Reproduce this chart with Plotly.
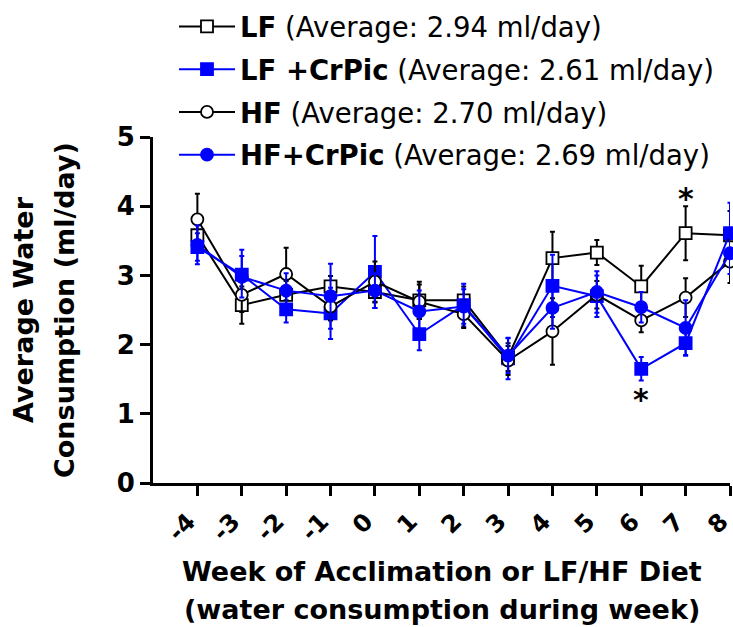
import plotly.graph_objects as go

weeks = [-4, -3, -2, -1, 0, 1, 2, 3, 4, 5, 6, 7, 8]
tick_labels = ["-4", "-3", "-2", "-1", "0", "1", "2", "3", "4", "5", "6", "7", "8"]

lf = [3.58, 2.57, 2.72, 2.84, 2.76, 2.64, 2.64, 1.82, 3.25, 3.33, 2.84, 3.61, 3.58]
lf_err = [0.20, 0.27, 0.20, 0.15, 0.15, 0.27, 0.20, 0.20, 0.38, 0.18, 0.30, 0.39, 0.35]

lfc = [3.41, 3.01, 2.51, 2.45, 3.05, 2.15, 2.57, 1.80, 2.85, 2.70, 1.65, 2.02, 3.61]
lfc_err = [0.20, 0.36, 0.19, 0.37, 0.52, 0.23, 0.31, 0.30, 0.45, 0.30, 0.17, 0.17, 0.44]

hf = [3.81, 2.72, 3.02, 2.55, 2.91, 2.62, 2.44, 1.77, 2.19, 2.72, 2.35, 2.68, 3.20]
hf_err = [0.37, 0.25, 0.38, 0.20, 0.29, 0.25, 0.20, 0.21, 0.48, 0.20, 0.17, 0.28, 0.31]

hfc = [3.44, 2.98, 2.78, 2.70, 2.78, 2.48, 2.55, 1.84, 2.53, 2.76, 2.54, 2.24, 3.32]
hfc_err = [0.28, 0.30, 0.25, 0.47, 0.25, 0.30, 0.25, 0.25, 0.30, 0.30, 0.22, 0.40, 0.30]

names = [
    "<b>LF</b> (Average: 2.94 ml/day)",
    "<b>LF +CrPic</b> (Average: 2.61 ml/day)",
    "<b>HF</b> (Average: 2.70 ml/day)",
    "<b>HF+CrPic</b> (Average: 2.69 ml/day)",
]

star_x = [7, 6]
star_y = [4.16, 1.25]

FONT = "DejaVu Sans"
BLACK = "#000000"
BLUE = "#0000FF"

fig = go.Figure()

def add(y, err, name, color, symbol, fill, group):
    fig.add_trace(go.Scatter(
        x=weeks, y=y, name=name, mode="lines+markers", legendgroup=group,
        line=dict(color=color, width=2),
        marker=dict(symbol=symbol, size=12,
                    color=(color if fill else "white"),
                    line=dict(color=color, width=1.8)),
        error_y=dict(type="data", array=err, visible=True,
                     color=color, thickness=2, width=2.5),
        cliponaxis=False,
    ))

add(lf, lf_err, names[0], BLACK, "square", False, "g1")
add(lfc, lfc_err, names[1], BLUE, "square", True, "g2")
add(hf, hf_err, names[2], BLACK, "circle", False, "g3")
add(hfc, hfc_err, names[3], BLUE, "circle", True, "g4")

for sx, sy in zip(star_x, star_y):
    fig.add_annotation(x=sx, y=sy, text="<b>*</b>", showarrow=False,
                       font=dict(family=FONT, size=30, color=BLACK),
                       yshift=-3)

# plot area in pixels
L, R, T, B = 153, 3, 137, 144
W, H = 733, 627
pw, ph = W - L - R, H - T - B

def px_to_paper_x(px):
    return (px - L) / pw

def py_to_paper_y(py):
    return (H - B - py) / ph

title_font = dict(family=FONT, size=27, color=BLACK)
fig.add_annotation(xref="paper", yref="paper", x=0.5, y=py_to_paper_y(571),
                   text="<b>Week of Acclimation or LF/HF Diet</b>", showarrow=False,
                   font=title_font, xanchor="center", yanchor="middle")
fig.add_annotation(xref="paper", yref="paper", x=0.5, y=py_to_paper_y(609),
                   text="<b>(water consumption during week)</b>", showarrow=False,
                   font=title_font, xanchor="center", yanchor="middle")
fig.add_annotation(xref="paper", yref="paper", x=px_to_paper_x(23), y=0.5,
                   text="<b>Average Water</b>", showarrow=False, textangle=-90,
                   font=title_font, xanchor="center", yanchor="middle")
fig.add_annotation(xref="paper", yref="paper", x=px_to_paper_x(64), y=0.5,
                   text="<b>Consumption (ml/day)</b>", showarrow=False, textangle=-90,
                   font=title_font, xanchor="center", yanchor="middle")

fig.update_layout(
    width=W, height=H,
    margin=dict(l=L, r=R, t=T, b=B, autoexpand=False),
    paper_bgcolor="white", plot_bgcolor="white",
    showlegend=True,
    legend=dict(x=px_to_paper_x(174), y=py_to_paper_y(2), xanchor="left", yanchor="top",
                font=dict(family=FONT, size=27.5, color=BLACK),
                bgcolor="rgba(0,0,0,0)", itemwidth=56, tracegroupgap=4),
    font=dict(family=FONT, color=BLACK),
)

fig.update_xaxes(
    range=[-5, 8], tickmode="array", tickvals=weeks, ticktext=tick_labels,
    tickangle=-45, ticks="outside", ticklen=10, tickwidth=3, tickcolor=BLACK,
    showline=True, linecolor=BLACK, linewidth=3, showgrid=False, zeroline=False,
    ticklabeloverflow="allow", ticklabelshift=-9, ticklabelstandoff=2,
    tickfont=dict(family=FONT, size=24, color=BLACK, weight="bold"),
)
fig.update_yaxes(
    range=[0, 5], tickvals=[0, 1, 2, 3, 4, 5],
    ticks="outside", ticklen=10, tickwidth=3, tickcolor=BLACK,
    showline=True, linecolor=BLACK, linewidth=3, showgrid=False, zeroline=False,
    tickfont=dict(family=FONT, size=26, color=BLACK, weight="bold"),
)

fig.write_html("out.html")
